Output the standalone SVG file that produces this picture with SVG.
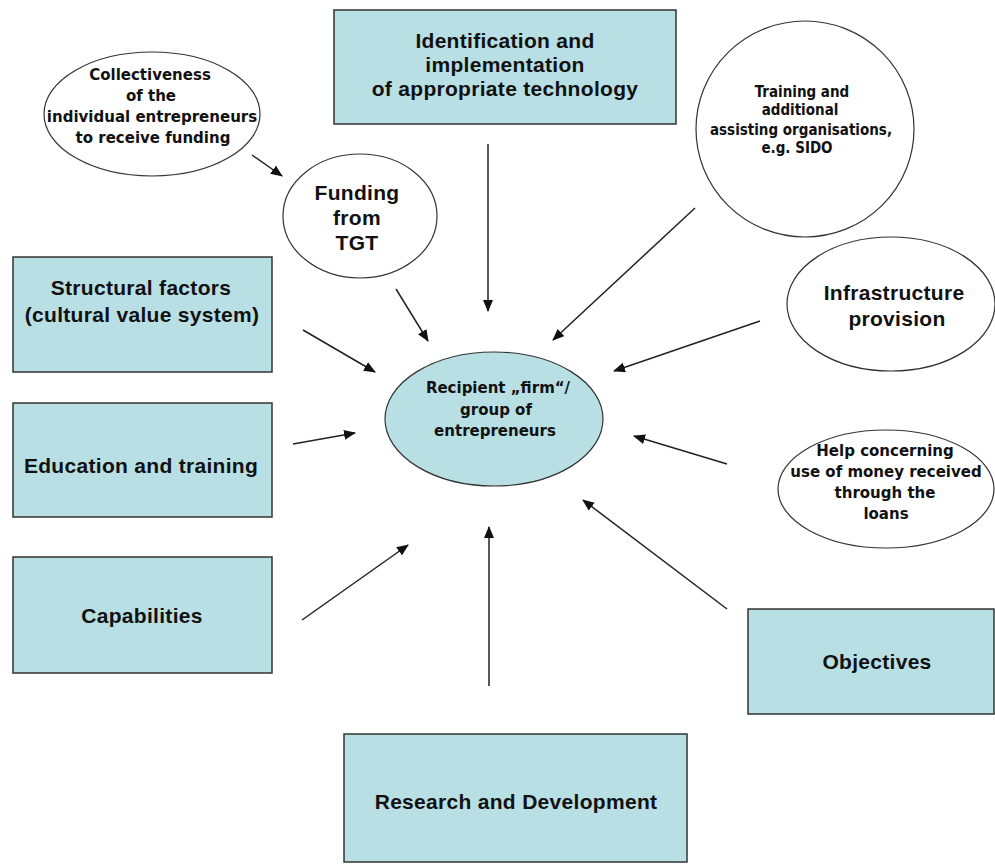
<svg xmlns="http://www.w3.org/2000/svg" width="995" height="865" viewBox="0 0 995 865">
<defs>
<marker id="ah" viewBox="0 0 12 10" refX="11" refY="5" markerWidth="12" markerHeight="10" markerUnits="userSpaceOnUse" orient="auto">
<path d="M0,0 L12,5 L0,10 z" fill="#111"/>
</marker>
<style>
.box{fill:#b8dfe3;stroke:#333;stroke-width:1.5}
.ell{fill:#fff;stroke:#333;stroke-width:1.2}
.cen{fill:#b8dfe3;stroke:#333;stroke-width:1.2}
.t{font-family:"Liberation Sans",Arial,sans-serif;font-weight:bold;font-size:21px;letter-spacing:0.3px;fill:#111;text-anchor:middle}
.s{font-family:"DejaVu Sans",Verdana,sans-serif;font-weight:bold;font-size:15px;fill:#111;text-anchor:middle}
.s0{font-family:"DejaVu Sans Condensed","DejaVu Sans",sans-serif;font-stretch:condensed;font-weight:bold;font-size:15px;fill:#111;text-anchor:middle}
.c{stroke:#222;stroke-width:1.5;fill:none;marker-end:url(#ah)}
</style>
</defs>
<rect width="995" height="865" fill="#fff"/>

<g id="identification">
<rect class="box" x="334" y="10" width="342" height="114"/>
<text class="t" x="505" y="48">Identification and</text>
<text class="t" x="505" y="72">implementation</text>
<text class="t" x="505" y="96">of appropriate technology</text>
</g>

<g id="collectiveness">
<ellipse class="ell" cx="152" cy="114" rx="108" ry="62"/>
<text class="s" x="150" y="80">Collectiveness</text>
<text class="s" x="151" y="101">of the</text>
<text class="s" x="152" y="122">individual entrepreneurs</text>
<text class="s" x="153" y="143">to receive funding</text>
</g>

<g id="funding">
<ellipse class="ell" cx="360" cy="216" rx="77" ry="62"/>
<text class="t" x="357" y="200">Funding</text>
<text class="t" x="357" y="225">from</text>
<text class="t" x="357" y="250">TGT</text>
</g>

<g id="training">
<ellipse class="ell" cx="805" cy="129" rx="109" ry="108"/>
<text class="s0" x="802" y="97">Training and</text>
<text class="s0" x="800" y="115">additional</text>
<text class="s0" x="801" y="135">assisting organisations,</text>
<text class="s0" x="797" y="153">e.g. SIDO</text>
</g>

<g id="infrastructure">
<ellipse class="ell" cx="891" cy="304" rx="104" ry="67"/>
<text class="t" x="894" y="300">Infrastructure</text>
<text class="t" x="897" y="326">provision</text>
</g>

<g id="structural">
<rect class="box" x="13" y="257" width="259" height="115"/>
<text class="t" x="141" y="295">Structural factors</text>
<text class="t" x="142" y="322">(cultural value system)</text>
</g>

<g id="education">
<rect class="box" x="13" y="403" width="259" height="114"/>
<text class="t" x="141" y="473">Education and training</text>
</g>

<g id="recipient">
<ellipse class="cen" cx="494" cy="419" rx="109" ry="67"/>
<text class="s" x="498" y="393">Recipient „firm“/</text>
<text class="s" x="496" y="415">group of</text>
<text class="s" x="495" y="436">entrepreneurs</text>
</g>

<g id="help">
<ellipse class="ell" cx="886" cy="489" rx="108" ry="59"/>
<text class="s" x="885" y="456">Help concerning</text>
<text class="s" x="886" y="477">use of money received</text>
<text class="s" x="885" y="498">through the</text>
<text class="s" x="886" y="519">loans</text>
</g>

<g id="capabilities">
<rect class="box" x="13" y="557" width="259" height="116"/>
<text class="t" x="142" y="623">Capabilities</text>
</g>

<g id="objectives">
<rect class="box" x="748" y="609" width="246" height="105"/>
<text class="t" x="877" y="669">Objectives</text>
</g>

<g id="research">
<rect class="box" x="344" y="734" width="343" height="128"/>
<text class="t" x="516" y="809">Research and Development</text>
</g>

<g id="connectors">
<line class="c" x1="252" y1="155" x2="282" y2="176"/>
<line class="c" x1="396" y1="289" x2="428" y2="341"/>
<line class="c" x1="303" y1="330" x2="375" y2="372"/>
<line class="c" x1="293" y1="444" x2="355" y2="433"/>
<line class="c" x1="488" y1="144" x2="488" y2="311"/>
<line class="c" x1="695" y1="208" x2="553" y2="340"/>
<line class="c" x1="760" y1="321" x2="614" y2="371"/>
<line class="c" x1="727" y1="464" x2="634" y2="436"/>
<line class="c" x1="727" y1="609" x2="583" y2="500"/>
<line class="c" x1="489" y1="686" x2="489" y2="527"/>
<line class="c" x1="302" y1="620" x2="408" y2="545"/>
</g>
</svg>
